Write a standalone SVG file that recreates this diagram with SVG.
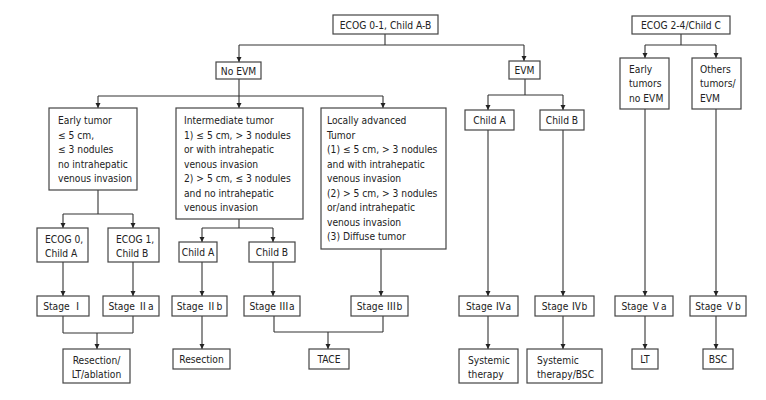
<svg xmlns="http://www.w3.org/2000/svg" width="766" height="400" viewBox="0 0 766 400">
<defs>
<marker id="ah" markerWidth="6" markerHeight="6" refX="5" refY="3" orient="auto" markerUnits="userSpaceOnUse">
<path d="M0,0.5 L5,3 L0,5.5 Z" fill="#222"/>
</marker>
<style>
rect{fill:#fff;stroke:#444;stroke-width:1.2}
text{font-family:"DejaVu Sans Condensed","Liberation Sans","Noto Sans CJK SC",sans-serif;font-size:10.2px;fill:#222}
.c{text-anchor:middle}
.r{font-family:"Noto Sans CJK SC","Noto Sans CJK JP",sans-serif}
.ln{fill:none;stroke:#333;stroke-width:1.1}
.ar{fill:none;stroke:#333;stroke-width:1.1;marker-end:url(#ah)}
</style>
</defs>
<rect x="0" y="0" width="766" height="400" style="fill:#fff;stroke:none"/>
<g id="connectors">
<path class="ln" d="M385,34 V45 M239,45 H524"/>
<path class="ar" d="M239,45 V62"/>
<path class="ar" d="M524,45 V61"/>
<path class="ln" d="M239,79 V96 M98,96 H383"/>
<path class="ar" d="M98,96 V108"/>
<path class="ar" d="M239,96 V108"/>
<path class="ar" d="M383,96 V108"/>
<path class="ln" d="M525,79 V95 M488,95 H563"/>
<path class="ar" d="M488,95 V110"/>
<path class="ar" d="M563,95 V110"/>
<path class="ln" d="M681,34 V45 M645,45 H716"/>
<path class="ar" d="M645,45 V58"/>
<path class="ar" d="M716,45 V58"/>
<path class="ln" d="M98,190 V214 M63,214 H133"/>
<path class="ar" d="M63,214 V228"/>
<path class="ar" d="M133,214 V228"/>
<path class="ar" d="M63,262 V296"/>
<path class="ar" d="M133,262 V296"/>
<path class="ln" d="M63,316 V333 M133,316 V333 M63,333 H133"/>
<path class="ar" d="M97,333 V349"/>
<path class="ln" d="M239,219 V228 M202,228 H273"/>
<path class="ar" d="M202,228 V242"/>
<path class="ar" d="M273,228 V242"/>
<path class="ar" d="M202,262 V296"/>
<path class="ar" d="M273,262 V296"/>
<path class="ar" d="M202,316 V349"/>
<path class="ar" d="M381,249 V296"/>
<path class="ln" d="M274,316 V332 M383,316 V332 M274,332 H383"/>
<path class="ar" d="M328,332 V349"/>
<path class="ar" d="M488,130 V296"/>
<path class="ar" d="M563,130 V296"/>
<path class="ar" d="M488,316 V349"/>
<path class="ar" d="M563,316 V349"/>
<path class="ar" d="M645,109 V296"/>
<path class="ar" d="M716,109 V296"/>
<path class="ar" d="M645,316 V349"/>
<path class="ar" d="M716,316 V349"/>
</g>
<g id="n_ecog01"><rect x="333" y="15" width="105" height="19"/><text class="c" x="385.5" y="28.5">ECOG 0-1, Child A-B</text></g>
<g id="n_ecog24"><rect x="632" y="16" width="98" height="18"/><text class="c" x="681" y="28.5">ECOG 2-4/Child C</text></g>
<g id="n_noevm"><rect x="216" y="62" width="45" height="17"/><text class="c" x="238.5" y="74.5">No EVM</text></g>
<g id="n_evm"><rect x="509" y="61" width="31" height="18"/><text class="c" x="524.5" y="74">EVM</text></g>
<g id="n_early"><rect x="49" y="108" width="88" height="82"/>
<text x="58" y="124">Early tumor</text>
<text x="58" y="138.5">≤ 5 cm,</text>
<text x="58" y="153">≤ 3 nodules</text>
<text x="58" y="167.5">no intrahepatic</text>
<text x="58" y="182">venous invasion</text></g>
<g id="n_inter"><rect x="176" y="108" width="127" height="111"/>
<text x="184" y="124">Intermediate tumor</text>
<text x="184" y="138.5">1) ≤ 5 cm, &gt; 3 nodules</text>
<text x="184" y="153">or with intrahepatic</text>
<text x="184" y="167.5">venous invasion</text>
<text x="184" y="182">2) &gt; 5 cm, ≤ 3 nodules</text>
<text x="184" y="196.5">and no intrahepatic</text>
<text x="184" y="211">venous invasion</text></g>
<g id="n_local"><rect x="321" y="108" width="125" height="141"/>
<text x="327" y="124">Locally advanced</text>
<text x="327" y="138.5">Tumor</text>
<text x="327" y="153">(1) ≤ 5 cm, &gt; 3 nodules</text>
<text x="327" y="167.5">and with intrahepatic</text>
<text x="327" y="182">venous invasion</text>
<text x="327" y="196.5">(2) &gt; 5 cm, &gt; 3 nodules</text>
<text x="327" y="211">or/and intrahepatic</text>
<text x="327" y="225.5">venous invasion</text>
<text x="327" y="240">(3) Diffuse tumor</text></g>
<g id="n_evm_childA"><rect x="465" y="110" width="49" height="20"/><text class="c" x="489.5" y="123.5">Child A</text></g>
<g id="n_evm_childB"><rect x="540" y="110" width="44" height="20"/><text class="c" x="562" y="123.5">Child B</text></g>
<g id="n_early_noevm"><rect x="620" y="58" width="49" height="51"/>
<text x="629" y="72.5">Early</text>
<text x="629" y="87">tumors</text>
<text x="629" y="101.5">no EVM</text></g>
<g id="n_others"><rect x="692" y="58" width="49" height="51"/>
<text x="700" y="72.5">Others</text>
<text x="700" y="87">tumors/</text>
<text x="700" y="101.5">EVM</text></g>
<g id="n_ecog0"><rect x="37" y="228" width="51" height="34"/>
<text x="45" y="242.5">ECOG 0,</text>
<text x="45" y="257">Child A</text></g>
<g id="n_ecog1"><rect x="108" y="228" width="51" height="34"/>
<text x="116" y="242.5">ECOG 1,</text>
<text x="116" y="257">Child B</text></g>
<g id="n_int_childA"><rect x="179" y="242" width="38" height="20"/><text class="c" x="198" y="255.5">Child A</text></g>
<g id="n_int_childB"><rect x="249" y="242" width="46" height="20"/><text class="c" x="272" y="255.5">Child B</text></g>
<g id="n_stage1"><rect x="37" y="296" width="52" height="20"/><text class="c" x="63" y="309.5">Stage <tspan class="r">Ⅰ</tspan></text></g>
<g id="n_stage2a"><rect x="103" y="296" width="56" height="20"/><text class="c" x="131" y="309.5">Stage <tspan class="r">Ⅱ</tspan>a</text></g>
<g id="n_stage2b"><rect x="172" y="296" width="55" height="20"/><text class="c" x="199.5" y="309.5">Stage <tspan class="r">Ⅱ</tspan>b</text></g>
<g id="n_stage3a"><rect x="244" y="296" width="56" height="20"/><text class="c" x="272" y="309.5">Stage <tspan class="r">Ⅲ</tspan>a</text></g>
<g id="n_stage3b"><rect x="351" y="296" width="57" height="20"/><text class="c" x="379.5" y="309.5">Stage <tspan class="r">Ⅲ</tspan>b</text></g>
<g id="n_stage4a"><rect x="459" y="296" width="59" height="20"/><text class="c" x="488.5" y="309.5">Stage <tspan class="r">Ⅳ</tspan>a</text></g>
<g id="n_stage4b"><rect x="535" y="296" width="59" height="20"/><text class="c" x="564.5" y="309.5">Stage <tspan class="r">Ⅳ</tspan>b</text></g>
<g id="n_stage5a"><rect x="615" y="296" width="58" height="20"/><text class="c" x="644" y="309.5">Stage <tspan class="r">Ⅴ</tspan>a</text></g>
<g id="n_stage5b"><rect x="690" y="296" width="56" height="20"/><text class="c" x="718" y="309.5">Stage <tspan class="r">Ⅴ</tspan>b</text></g>
<g id="n_res_lt"><rect x="63" y="349" width="67" height="34"/>
<text class="c" x="96.5" y="363.5">Resection/</text>
<text class="c" x="96.5" y="377.5">LT/ablation</text></g>
<g id="n_resection"><rect x="173" y="349" width="57" height="20"/><text class="c" x="201.5" y="362.5">Resection</text></g>
<g id="n_tace"><rect x="309" y="349" width="40" height="20"/><text class="c" x="329" y="362.5">TACE</text></g>
<g id="n_sys"><rect x="459" y="349" width="59" height="34"/>
<text x="468" y="363.5">Systemic</text>
<text x="468" y="377.5">therapy</text></g>
<g id="n_sys_bsc"><rect x="527" y="349" width="75" height="34"/>
<text x="537" y="363.5">Systemic</text>
<text x="537" y="377.5">therapy/BSC</text></g>
<g id="n_lt"><rect x="632" y="349" width="26" height="20"/><text class="c" x="645" y="362.5">LT</text></g>
<g id="n_bsc"><rect x="703" y="349" width="30" height="20"/><text class="c" x="718" y="362.5">BSC</text></g>
</svg>
